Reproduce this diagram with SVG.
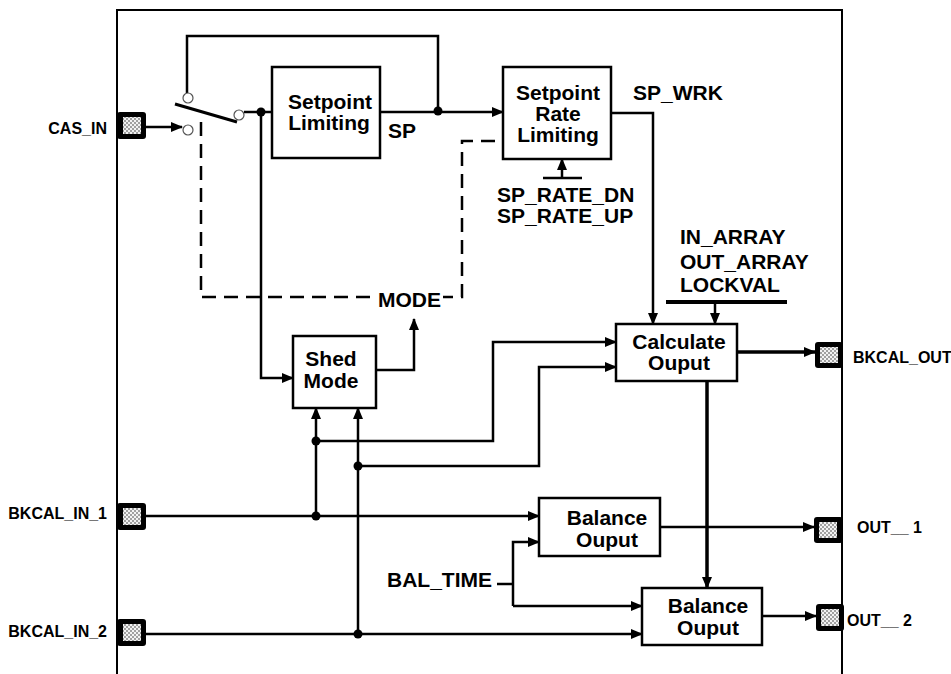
<svg xmlns="http://www.w3.org/2000/svg" width="951" height="674" viewBox="0 0 951 674">
<style>
.ln{stroke:#000;stroke-width:2.5;fill:none}
.thk{stroke:#000;stroke-width:3.5;fill:none}
.dash{stroke:#000;stroke-width:2.5;fill:none;stroke-dasharray:14 8}
.box{fill:#fff;stroke:#000;stroke-width:2.5}
.t{font-family:"Liberation Sans",Arial,sans-serif;font-weight:bold;font-size:21px;fill:#000}
.p{font-family:"Liberation Sans",Arial,sans-serif;font-weight:bold;font-size:16px;fill:#000}
.c{text-anchor:middle}
.port{fill:#000}
.pin{fill:url(#chk)}
.dot{fill:#000}
.oc{fill:#fff;stroke:#555;stroke-width:1.2}
</style>
<defs>
<pattern id="chk" width="4" height="4" patternUnits="userSpaceOnUse">
<rect width="4" height="4" fill="#f2f2f2"/>
<rect width="2" height="2" fill="#a0a0a0"/>
<rect x="2" y="2" width="2" height="2" fill="#a0a0a0"/>
</pattern>
<marker id="ah" markerWidth="12" markerHeight="10" refX="11" refY="5" orient="auto" markerUnits="userSpaceOnUse">
<path d="M0,0 L12,5 L0,10 z" fill="#000"/>
</marker>
</defs>
<rect width="951" height="674" fill="#fff"/>
<g id="frame"><path d="M117,674 V10 H842 V674" fill="none" stroke="#000" stroke-width="2"/></g>

<g id="connectors">
<path class="ln" d="M146,127 H182" marker-end="url(#ah)"/>
<path d="M175,104 L237,122" stroke="#000" stroke-width="3"/>
<path class="ln" d="M187,94 V36 H438 V111"/>
<path class="ln" d="M244,112 H272"/>
<path class="ln" d="M380,112 H503" marker-end="url(#ah)"/>
<path class="ln" d="M261,112 V378 H293" marker-end="url(#ah)"/>
<path class="ln" d="M611,113 H653 V324" marker-end="url(#ah)"/>
<path class="ln" d="M543,178 H582"/>
<path class="ln" d="M562,178 V159" marker-end="url(#ah)"/>
<path class="dash" d="M201,122 V297 H373"/>
<path class="dash" d="M443,297 H462 V141 H503" style="stroke-dashoffset:4"/>
<path class="ln" d="M376,370 H414 V319" marker-end="url(#ah)"/>
<path d="M666,302 H787" stroke="#000" stroke-width="4"/>
<path class="ln" d="M715,302 V324" marker-end="url(#ah)"/>
<path class="thk" d="M737,352 H815" marker-end="url(#ah)"/>
<path class="thk" d="M707,381 V588" marker-end="url(#ah)"/>
<path class="ln" d="M146,516 H539" marker-end="url(#ah)"/>
<path class="ln" d="M146,634 H642" marker-end="url(#ah)"/>
<path class="ln" d="M316,516 V408" marker-end="url(#ah)"/>
<path class="ln" d="M358,634 V408" marker-end="url(#ah)"/>
<path class="ln" d="M316,441 H493 V342 H616" marker-end="url(#ah)"/>
<path class="ln" d="M358,466 H539 V367 H616" marker-end="url(#ah)"/>
<path class="ln" d="M660,527 H814" marker-end="url(#ah)"/>
<path class="ln" d="M762,616 H816" marker-end="url(#ah)"/>
<path class="ln" d="M497,584 H513"/>
<path class="ln" d="M513,606 V542 H539" marker-end="url(#ah)"/>
<path class="ln" d="M513,606 H642" marker-end="url(#ah)"/>
<circle class="dot" cx="261" cy="112" r="4.5"/>
<circle class="dot" cx="438" cy="111" r="4.5"/>
<circle class="dot" cx="316" cy="441" r="4.5"/>
<circle class="dot" cx="358" cy="466" r="4.5"/>
<circle class="dot" cx="316" cy="516" r="4.5"/>
<circle class="dot" cx="358" cy="634" r="4.5"/>
<text class="t" x="388" y="138">SP</text>
<text class="t" x="633" y="100">SP_WRK</text>
<text class="t" x="497" y="202">SP_RATE_DN</text>
<text class="t" x="497" y="223">SP_RATE_UP</text>
<text class="t" x="680" y="244">IN_ARRAY</text>
<text class="t" x="680" y="269">OUT_ARRAY</text>
<text class="t" x="680" y="292">LOCKVAL</text>
<text class="t" x="378" y="307">MODE</text>
<text class="t" x="387" y="587">BAL_TIME</text>
</g>

<g id="switch">
<circle class="oc" cx="188" cy="98" r="5"/>
<circle class="oc" cx="188" cy="130" r="5"/>
<circle class="oc" cx="239" cy="115" r="5"/>
</g>

<g id="cas_in">
<rect class="port" x="117" y="112" width="29" height="27" rx="3"/>
<rect class="pin" x="123" y="117" width="18" height="17"/>
<text class="p" x="107" y="134" text-anchor="end">CAS_IN</text>
</g>
<g id="bkcal_in_1">
<rect class="port" x="117" y="503" width="29" height="27" rx="3"/>
<rect class="pin" x="123" y="508" width="18" height="17"/>
<text class="p" x="107" y="519" text-anchor="end">BKCAL_IN_1</text>
</g>
<g id="bkcal_in_2">
<rect class="port" x="117" y="619" width="29" height="27" rx="3"/>
<rect class="pin" x="123" y="624" width="18" height="17"/>
<text class="p" x="107" y="637" text-anchor="end">BKCAL_IN_2</text>
</g>
<g id="bkcal_out">
<rect class="port" x="815" y="342" width="28" height="26" rx="3"/>
<rect class="pin" x="820" y="347" width="18" height="16"/>
<text class="p" x="853" y="363">BKCAL_OUT</text>
</g>
<g id="out_1">
<rect class="port" x="814" y="517" width="29" height="26" rx="3"/>
<rect class="pin" x="819" y="522" width="18" height="16"/>
<text class="p" x="857" y="533">OUT__ 1</text>
</g>
<g id="out_2">
<rect class="port" x="816" y="604" width="28" height="27" rx="3"/>
<rect class="pin" x="821" y="609" width="18" height="17"/>
<text class="p" x="847" y="626">OUT__ 2</text>
</g>

<g id="setpoint_limiting">
<rect class="box" x="272" y="67" width="108" height="91"/>
<text class="t c" x="330" y="109">Setpoint</text>
<text class="t c" x="329" y="130">Limiting</text>
</g>
<g id="setpoint_rate_limiting">
<rect class="box" x="503" y="67" width="108" height="92"/>
<text class="t c" x="558" y="100">Setpoint</text>
<text class="t c" x="558" y="121">Rate</text>
<text class="t c" x="558" y="142">Limiting</text>
</g>
<g id="shed_mode">
<rect class="box" x="293" y="336" width="83" height="72"/>
<text class="t c" x="331" y="366">Shed</text>
<text class="t c" x="331" y="388">Mode</text>
</g>
<g id="calculate_output">
<rect class="box" x="616" y="324" width="121" height="57"/>
<text class="t c" x="679" y="349">Calculate</text>
<text class="t c" x="679" y="370">Ouput</text>
</g>
<g id="balance_output_1">
<rect class="box" x="539" y="498" width="121" height="58"/>
<text class="t c" x="607" y="525">Balance</text>
<text class="t c" x="607" y="547">Ouput</text>
</g>
<g id="balance_output_2">
<rect class="box" x="642" y="588" width="120" height="57"/>
<text class="t c" x="708" y="613">Balance</text>
<text class="t c" x="708" y="635">Ouput</text>
</g>
</svg>
